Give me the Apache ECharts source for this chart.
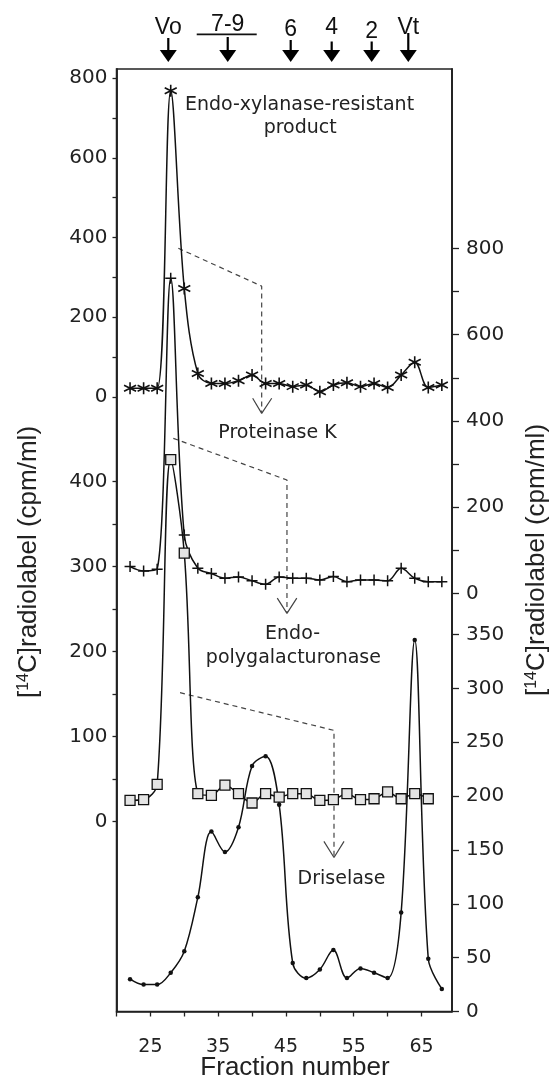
<!DOCTYPE html>
<html><head><meta charset="utf-8">
<script src="https://cdn.jsdelivr.net/npm/echarts@6/dist/echarts.min.js"></script>
<style>html,body{margin:0;padding:0;background:#fff}#c{width:553px;height:1083px}</style>
</head><body><div id="c"></div>
<script>
// ---------------- data ----------------
const fractions = [22,24,26,28,30,32,34,36,38,40,42,44,46,48,50,52,54,56,58,60,62,64,66,68];
const fractionsSquares = [22,24,26,28,30,32,34,36,38,40,42,44,46,48,50,52,54,56,58,60,62,64,66];
// Endo-xylanase-resistant product (asterisks, left upper scale)
const xylanaseResistant = [22,22,22,768,272,59,34,34,41,55,34,34,26,30,13,30,36,26,34,24,55,87,24,30];
// After Proteinase K (plus signs, right upper scale)
const proteinaseK = [62,52,56,731,135,58,46,35,38,29,21,38,35,35,31,39,27,31,31,29,58,35,27,27];
// After Endo-polygalacturonase (squares, left lower scale)
const polygalacturonase = [25,26,44,426,316,33,31,43,33,22,33,29,33,33,25,26,33,26,27,35,27,33,27];
// After Driselase (dots, right lower scale)
const driselase = [30,25,25,36,56,106,167,148,171,228,237,192,45,31,39,57,31,40,36,31,92,345,49,21];

const xTickLabels = [25,35,45,55,65];
const xTicks = [20,25,30,35,40,45,50,55,60,65];
const leftUpperLabels = [0,200,400,600,800];
const leftUpperTicks = [0,100,200,300,400,500,600,700,800];
const leftLowerLabels = [0,100,200,300,400];
const leftLowerTicks = [0,50,100,150,200,250,300,350,400];
const rightUpperLabels = [0,200,400,600,800];
const rightUpperTicks = [0,100,200,300,400,500,600,700,800];
const rightLowerLabels = [0,50,100,150,200,250,300,350];

const markerLabels = ['Vo','7-9','6','4','2','Vt'];
const markerFractions = [27.64,36.41,45.70,51.75,57.65,63.05];

// ---------------- annotation geometry (data coordinates) ----------------
const dash1 = [[29.12,373],[41.42,278],[41.42,-40]];          // left upper scale
const head1 = [[40.09,-3],[41.42,-41],[42.9,-3]];
const dash2 = [[28.38,451],[45.15,402],[45.15,246]];           // left lower scale
const head2 = [[43.72,263],[45.15,245],[46.6,263]];
const dash3 = [[29.37,296],[52.09,261],[52.09,143]];           // right lower scale
const head3 = [[50.6,158],[52.09,143],[53.57,158]];

const chart = echarts.init(document.getElementById('c'));
const tickFont = {fontFamily:'DejaVu Sans', fontSize:20, color:'#222'};
const axisLineStyle = {lineStyle:{color:'#222', width:1.5}};

function yAx(pos, min, max, labels, ticks, margin, tickLen){
  return {
    type:'value', position:pos, min:min, max:max, offset:0,
    axisLine:{show:true, onZero:false, ...axisLineStyle},
    axisTick:{show:true, length:tickLen, customValues:ticks, lineStyle:{color:'#222', width:1.3}},
    axisLabel:Object.assign({margin:margin, customValues:labels}, tickFont),
    splitLine:{show:false}
  };
}

const asterisk = 'path://M5 0L5 10M0.67 2.5L9.33 7.5M0.67 7.5L9.33 2.5';
const plus = 'path://M0 5L10 5M5 0L5 10';

function dataSeries(name, xs, ys, yIdx, symbol, size, itemStyle, z){
  return {
    type:'line', name:name, xAxisIndex:0, yAxisIndex:yIdx,
    data: xs.map((f,i)=>[f, ys[i]]),
    smooth:0.35, symbol:symbol, symbolSize:size, showAllSymbol:true,
    lineStyle:{color:'#111', width:1.5},
    itemStyle:itemStyle, emphasis:{disabled:true}, silent:true, z:z
  };
}
function annot(data, yIdx, dashed){
  return {
    type:'line', xAxisIndex:0, yAxisIndex:yIdx, data:data, symbol:'none', smooth:false,
    lineStyle:{color:'#444', width:1.2, type: dashed ? [5,4] : 'solid'},
    silent:true, emphasis:{disabled:true}, z:1
  };
}

chart.setOption({
  animation:false,
  backgroundColor:'#fff',
  grid:{show:true, left:116.5, right:101, top:69, bottom:71.5, borderColor:'#222', borderWidth:1.5, backgroundColor:'transparent'},
  xAxis:{
    type:'value', min:20, max:69.5,
    axisLine:{show:true, onZero:false, ...axisLineStyle},
    axisTick:{show:true, length:5, customValues:xTicks, lineStyle:{color:'#222', width:1.3}},
    axisLabel:Object.assign({margin:26, customValues:xTickLabels}, tickFont, {fontSize:19}),
    splitLine:{show:false}
  },
  yAxis:[
    yAx('left', -1541.0, 822.6, leftUpperLabels, leftUpperTicks, 9, 4),
    yAx('left', -223.3, 885.5, leftLowerLabels, leftLowerTicks, 9, 4),
    yAx('right', -970.3, 1216.5, rightUpperLabels, rightUpperTicks, 14, 7),
    yAx('right', 0, 875, rightLowerLabels, rightLowerLabels, 14, 7)
  ],
  series:[
    annot(dash1,0,true), annot(head1,0,false),
    annot(dash2,1,true), annot(head2,1,false),
    annot(dash3,3,true), annot(head3,3,false),
    dataSeries('Endo-xylanase-resistant product', fractions, xylanaseResistant, 0, asterisk, [12,12],
      {color:'#111', borderColor:'#111', borderWidth:1.6}, 3),
    dataSeries('Proteinase K', fractions, proteinaseK, 2, plus, [11,11],
      {color:'#111', borderColor:'#111', borderWidth:1.5}, 3),
    dataSeries('Driselase', fractions, driselase, 3, 'circle', 4.5,
      {color:'#111', borderWidth:0}, 3),
    dataSeries('Endo-polygalacturonase', fractionsSquares, polygalacturonase, 1, 'rect', 10,
      {color:'#e4e4e4', borderColor:'#111', borderWidth:1.3}, 4)
  ]
});

// ---------------- graphics: annotations, markers, titles ----------------
function px(yIdx, f, v){ return chart.convertToPixel({xAxisIndex:0, yAxisIndex:yIdx}, [f, v]); }
const annFont = 'DejaVu Sans';
const textItems = [
  {t:'Endo-xylanase-resistant', y:0, f:47.0, v:732},
  {t:'product', y:0, f:47.1, v:674},
  {t:'Proteinase K', y:0, f:43.75, v:-91},
  {t:'Endo-', y:1, f:45.97, v:221},
  {t:'polygalacturonase', y:1, f:46.1, v:192},
  {t:'Driselase', y:3, f:53.2, v:123}
];
const g = [];
textItems.forEach(it=>{
  const p = px(it.y, it.f, it.v);
  g.push({type:'text', x:p[0], y:p[1], silent:true,
    style:{text:it.t, fontFamily:annFont, fontSize:19, fill:'#222', align:'center', verticalAlign:'middle'}});
});
const stemTops = [38,37,40,41.5,41.5,33];
const labelY = [28,25,30,28,31.5,28];
markerFractions.forEach((f,i)=>{
  const x = chart.convertToPixel({xAxisIndex:0}, f);
  g.push({type:'line', silent:true, shape:{x1:x, y1:stemTops[i], x2:x, y2:51}, style:{stroke:'#000', lineWidth:2.2}});
  g.push({type:'polygon', silent:true, shape:{points:[[x-8.5,50],[x+8.5,50],[x,62]]}, style:{fill:'#000'}});
  g.push({type:'text', silent:true, x:x, y:labelY[i],
    style:{text:markerLabels[i], fontFamily:'Liberation Sans', fontSize:23, fill:'#111', align:'center', verticalAlign:'middle'}});
  if (markerLabels[i]==='7-9'){
    g.push({type:'line', silent:true, shape:{x1:x-31, y1:34.3, x2:x+29, y2:34.3}, style:{stroke:'#111', lineWidth:1.8}});
  }
});
const titleStyle = {
  text:'[{s|14}C]radiolabel (cpm/ml)', fontFamily:'Liberation Sans', fontSize:26, fill:'#222',
  align:'center', verticalAlign:'middle',
  rich:{s:{fontFamily:'Liberation Sans', fontSize:16, verticalAlign:'top', fill:'#222'}}
};
g.push({type:'text', silent:true, x:29, y:562, rotation:Math.PI/2, style:Object.assign({}, titleStyle)});
g.push({type:'text', silent:true, x:537, y:560, rotation:Math.PI/2, style:Object.assign({}, titleStyle)});
g.push({type:'text', silent:true, x:295, y:1068,
  style:{text:'Fraction number', fontFamily:'Liberation Sans', fontSize:26, fill:'#222', align:'center', verticalAlign:'middle'}});
chart.setOption({graphic:g});
</script>
</body></html>
